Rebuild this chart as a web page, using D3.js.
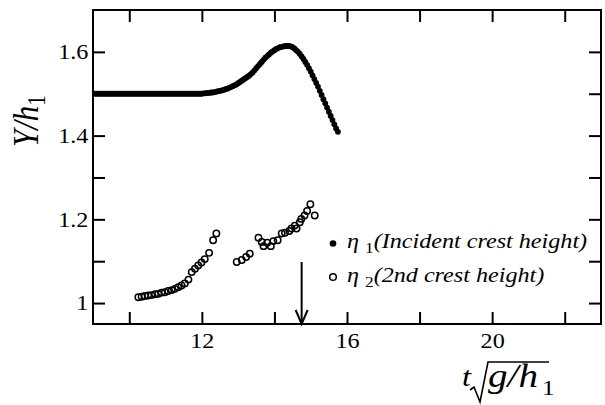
<!DOCTYPE html>
<html>
<head>
<meta charset="utf-8">
<script src="https://cdn.jsdelivr.net/npm/d3@7"></script>
<style>
  body { margin: 0; background: #fff; }
  text { font-family: "Liberation Serif", "Times New Roman", serif; fill: #000; }
</style>
</head>
<body>
<svg id="chart" width="605" height="405"></svg>
<script>
// η1: incident crest height (dense record)
const incidentTime = [
  9.05, 9.10, 9.15, 9.20, 9.25, 9.30, 9.35, 9.40, 9.45, 9.50, 9.55, 9.60, 9.65, 9.70, 9.75, 9.80, 9.85, 9.90, 9.95,
  10.00, 10.05, 10.10, 10.15, 10.20, 10.25, 10.30, 10.35, 10.40, 10.45, 10.50, 10.55, 10.60, 10.65, 10.70, 10.75, 10.80, 10.85, 10.90, 10.95,
  11.00, 11.05, 11.10, 11.15, 11.20, 11.25, 11.30, 11.35, 11.40, 11.45, 11.50, 11.55, 11.60, 11.65, 11.70, 11.75, 11.80, 11.85, 11.90, 11.95,
  12.00, 12.05, 12.10, 12.15, 12.20, 12.25, 12.30, 12.35, 12.40, 12.45, 12.50, 12.55, 12.60, 12.65, 12.70, 12.75, 12.80, 12.85, 12.90, 12.95,
  13.00, 13.05, 13.10, 13.15, 13.20, 13.25, 13.30, 13.35, 13.40, 13.45, 13.50, 13.55, 13.60, 13.65, 13.70, 13.75, 13.80, 13.85, 13.90, 13.95,
  14.00, 14.05, 14.10, 14.15, 14.20, 14.25, 14.30, 14.35, 14.40, 14.45, 14.50, 14.55, 14.60, 14.65, 14.70, 14.75, 14.80, 14.85, 14.90, 14.95,
  15.00, 15.05, 15.10, 15.15, 15.20, 15.25, 15.30, 15.35, 15.40, 15.45, 15.50, 15.55, 15.60, 15.65, 15.70, 15.75
];
const incidentHeight = [
  1.500, 1.500, 1.500, 1.500, 1.500, 1.500, 1.500, 1.500, 1.500, 1.500, 1.500, 1.500, 1.500, 1.500, 1.500, 1.500, 1.500, 1.500, 1.500,
  1.500, 1.500, 1.500, 1.500, 1.500, 1.500, 1.500, 1.500, 1.500, 1.500, 1.500, 1.500, 1.500, 1.500, 1.500, 1.500, 1.500, 1.500, 1.500, 1.500,
  1.500, 1.500, 1.500, 1.500, 1.500, 1.500, 1.500, 1.500, 1.500, 1.500, 1.500, 1.500, 1.500, 1.500, 1.500, 1.500, 1.500, 1.500, 1.500, 1.500,
  1.500, 1.501, 1.501, 1.502, 1.502, 1.503, 1.503, 1.504, 1.505, 1.506, 1.507, 1.508, 1.509, 1.511, 1.512, 1.514, 1.516, 1.518, 1.520, 1.522,
  1.525, 1.528, 1.531, 1.534, 1.537, 1.540, 1.543, 1.547, 1.551, 1.556, 1.561, 1.566, 1.571, 1.576, 1.581, 1.586, 1.590, 1.594, 1.598, 1.601,
  1.604, 1.607, 1.609, 1.611, 1.612, 1.613, 1.614, 1.614, 1.614, 1.613, 1.611, 1.608, 1.604, 1.600, 1.595, 1.589, 1.583, 1.576, 1.569, 1.561,
  1.553, 1.544, 1.535, 1.526, 1.517, 1.507, 1.497, 1.487, 1.477, 1.467, 1.457, 1.447, 1.437, 1.427, 1.417, 1.409
];

// η2: second crest height
const secondTime = [
  10.25, 10.34, 10.43, 10.52, 10.61, 10.71, 10.80, 10.89, 10.98, 11.07, 11.17, 11.26, 11.35, 11.44, 11.53, 11.63,
  11.72, 11.81, 11.90, 11.99, 12.08, 12.20, 12.31, 12.40,
  12.96, 13.10, 13.22, 13.32, 13.56, 13.65, 13.70, 13.80, 13.90, 13.97, 14.09, 14.20, 14.29, 14.41, 14.47,
  14.56, 14.61, 14.70, 14.74, 14.83, 14.90, 14.99, 15.11
];
const secondHeight = [
  1.014, 1.015, 1.017, 1.018, 1.019, 1.021, 1.022, 1.025, 1.026, 1.029, 1.031, 1.034, 1.038, 1.042, 1.047, 1.056,
  1.074, 1.082, 1.090, 1.097, 1.105, 1.120, 1.150, 1.166,
  1.098, 1.103, 1.110, 1.118, 1.156, 1.146, 1.136, 1.144, 1.136, 1.148, 1.150, 1.166, 1.168, 1.172, 1.178,
  1.185, 1.178, 1.193, 1.201, 1.209, 1.220, 1.236, 1.209
];

const xTicks = [10, 12, 14, 16, 18, 20, 22];
const xTickLabels = [12, 16, 20];
const yTicks = [1.0, 1.1, 1.2, 1.3, 1.4, 1.5, 1.6];
const yTickLabels = [1.0, 1.2, 1.4, 1.6];

// arrow marking the instant of interest
const arrowTime = 14.75;
const arrowTop = 1.098;

const legendSymbols = ["η", "η"];
const legendIndices = ["1", "2"];
const legendTexts = ["(Incident crest height)", "(2nd crest height)"];

const svg = d3.select("#chart");
const margin = { left: 93, top: 10, right: 4, bottom: 81 };
const W = 605 - margin.left - margin.right;
const H = 405 - margin.top - margin.bottom;

const x = d3.scaleLinear().domain([9, 23]).range([0, W]);
const y = d3.scaleLinear().domain([0.95, 1.7]).range([H, 0]);

// the typeset lettering is slightly wide
const SX = 1.15;

const g = svg.append("g").attr("transform", `translate(${margin.left},${margin.top})`);

const TICK = 12;
const fmt = (labels) => (d) => labels.includes(d) ? String(d) : "";

function styleAxis(sel) {
  sel.select(".domain").remove();
  sel.selectAll(".tick line").attr("stroke", "#000").attr("stroke-width", 2);
  sel.selectAll("text").style("font-size", "21px").attr("fill", "#000")
    .attr("transform", `scale(${SX},1)`);
}

g.append("g").attr("transform", `translate(0,${H})`)
  .call(d3.axisBottom(x).tickValues(xTicks).tickSize(-TICK).tickPadding(9).tickFormat(fmt(xTickLabels)))
  .call(styleAxis);
g.append("g")
  .call(d3.axisTop(x).tickValues(xTicks).tickSize(-TICK).tickFormat(() => ""))
  .call(styleAxis);
g.append("g")
  .call(d3.axisLeft(y).tickValues(yTicks).tickSize(-TICK).tickPadding(4).tickFormat(fmt(yTickLabels)))
  .call(styleAxis);
g.append("g").attr("transform", `translate(${W},0)`)
  .call(d3.axisRight(y).tickValues(yTicks).tickSize(-TICK).tickFormat(() => ""))
  .call(styleAxis);

// frame
g.append("rect").attr("x", 0).attr("y", 0).attr("width", W).attr("height", H)
  .attr("fill", "none").attr("stroke", "#000").attr("stroke-width", 2);

// η1 filled dots
g.append("g").selectAll("circle")
  .data(incidentTime.map((t, i) => [t, incidentHeight[i]]))
  .join("circle")
  .attr("cx", d => x(d[0])).attr("cy", d => y(d[1])).attr("r", 2.9)
  .attr("fill", "#000");

// η2 open circles
g.append("g").selectAll("circle")
  .data(secondTime.map((t, i) => [t, secondHeight[i]]))
  .join("circle")
  .attr("cx", d => x(d[0])).attr("cy", d => y(d[1])).attr("r", 3.2)
  .attr("fill", "none").attr("stroke", "#000").attr("stroke-width", 1.5);

// arrow
const ax = x(arrowTime), ay0 = y(arrowTop), ay1 = H;
g.append("line").attr("x1", ax).attr("x2", ax).attr("y1", ay0).attr("y2", ay1)
  .attr("stroke", "#000").attr("stroke-width", 2);
g.append("path")
  .attr("d", `M${ax - 6},${ay1 - 14}L${ax},${ay1}L${ax + 6},${ay1 - 14}`)
  .attr("fill", "none").attr("stroke", "#000").attr("stroke-width", 2);

// text placed in screen coordinates, widened by SX
function label(parent, px, py, size, italic, rotate) {
  return parent.append("text")
    .attr("transform", `translate(${px},${py}) scale(${SX},1)` + (rotate ? ` rotate(${rotate})` : ""))
    .style("font-size", size + "px")
    .style("font-style", italic ? "italic" : "normal");
}

// legend
const legendX = 333;
const legendRows = [248, 281.5];
legendRows.forEach((ly, i) => {
  const sym = svg.append("circle").attr("cx", legendX).attr("cy", ly - 4.5).attr("r", 3.3);
  if (i === 0) sym.attr("fill", "#000");
  else sym.attr("fill", "none").attr("stroke", "#000").attr("stroke-width", 1.5);
  const t = label(svg, legendX + 14, ly, 21, true);
  t.append("tspan").text(legendSymbols[i] + " ");
  t.append("tspan").attr("dy", 5).style("font-style", "normal").style("font-size", "15px").text(legendIndices[i]);
  t.append("tspan").attr("dy", -5).text(legendTexts[i]);
});

// y-axis title: Y/h1
const yl = label(svg, 38, 147, 31, true, -90);
yl.append("tspan").text("Y/h");
yl.append("tspan").attr("dy", 6).style("font-style", "normal").style("font-size", "21px").text("1");

// x-axis title: t √(g/h1)
label(svg, 462, 386, 28, true).text("t");
svg.append("path")
  .attr("d", "M470,390 L474,387 L480,402 L488,362 L549,362")
  .attr("fill", "none").attr("stroke", "#000").attr("stroke-width", 1.6);
label(svg, 488, 387, 34, true).text("g/h");
label(svg, 542, 395, 22, false).text("1");
</script>
</body>
</html>
